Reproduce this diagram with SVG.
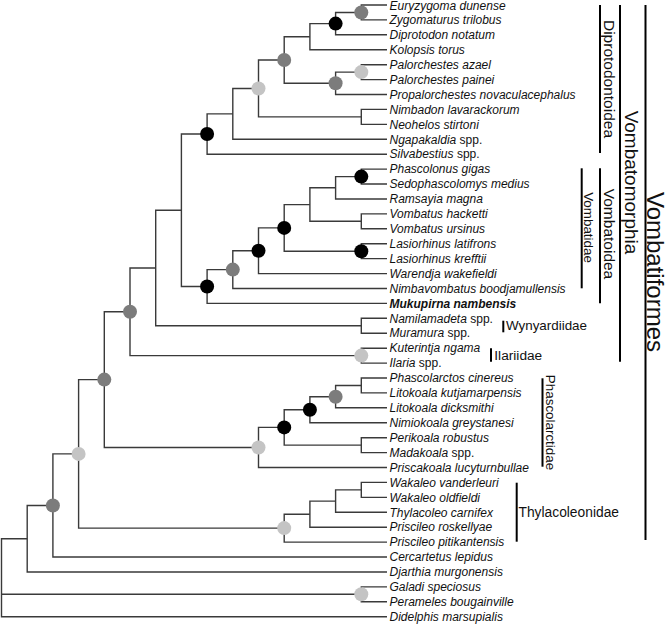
<svg xmlns="http://www.w3.org/2000/svg" width="669" height="624" viewBox="0 0 669 624">
<style>
.e{fill:none;stroke:#3a3a3a;stroke-width:1.4}
.bar{stroke:#000;stroke-width:2}
.t{font-family:"Liberation Sans",Arial,sans-serif;font-size:12px;font-style:italic;fill:#111}
.r{font-style:normal}
.b{font-weight:bold}
.cl{font-family:"Liberation Sans",Arial,sans-serif;fill:#111}
.k{fill:#000}
.g{fill:#7c7c7c}
.l{fill:#c4c4c4}
</style>
<rect width="669" height="624" fill="#fff"/>
<g id="connectors" class="e">
<path d="M387,5 H361.3 V19.9 H387"/>
<path d="M361.3,12.5 H335.6 V34.8 H387"/>
<path d="M335.6,23.6 H309.9 V49.8 H387"/>
<path d="M387,64.7 H361.3 V79.6 H387"/>
<path d="M361.3,72.1 H335.6 V94.5 H387"/>
<path d="M309.9,36.7 H284.2 V83.3 H335.6"/>
<path d="M387,109.4 H361.3 V124.4 H387"/>
<path d="M284.2,60 H258.5 V116.9 H361.3"/>
<path d="M258.5,88.5 H232.8 V139.3 H387"/>
<path d="M232.8,113.9 H207.1 V154.2 H387"/>
<path d="M387,169.1 H361.3 V184 H387"/>
<path d="M361.3,176.6 H335.6 V199 H387"/>
<path d="M387,213.9 H361.3 V228.8 H387"/>
<path d="M335.6,187.8 H309.9 V221.3 H361.3"/>
<path d="M387,243.7 H361.3 V258.6 H387"/>
<path d="M309.9,204.6 H284.2 V251.2 H361.3"/>
<path d="M284.2,227.9 H258.5 V273.6 H387"/>
<path d="M258.5,250.7 H232.8 V288.5 H387"/>
<path d="M232.8,269.6 H207.1 V303.4 H387"/>
<path d="M207.1,134 H181.4 V286.5 H207.1"/>
<path d="M387,318.3 H361.3 V333.2 H387"/>
<path d="M181.4,210.3 H155.7 V325.8 H361.3"/>
<path d="M387,348.2 H361.3 V363.1 H387"/>
<path d="M155.7,268 H130 V355.6 H361.3"/>
<path d="M387,378 H361.3 V392.9 H387"/>
<path d="M361.3,385.5 H335.6 V407.8 H387"/>
<path d="M335.6,396.7 H309.9 V422.8 H387"/>
<path d="M387,437.7 H361.3 V452.6 H387"/>
<path d="M309.9,409.7 H284.2 V445.1 H361.3"/>
<path d="M284.2,427.4 H258.5 V467.5 H387"/>
<path d="M130,311.8 H104.3 V447.5 H258.5"/>
<path d="M387,482.4 H361.3 V497.4 H387"/>
<path d="M361.3,489.9 H335.6 V512.3 H387"/>
<path d="M335.6,501.1 H309.9 V527.2 H387"/>
<path d="M309.9,514.2 H284.2 V542.1 H387"/>
<path d="M104.3,379.6 H78.6 V528.1 H284.2"/>
<path d="M78.6,453.9 H52.9 V557 H387"/>
<path d="M52.9,505.5 H27.2 V572 H387"/>
<path d="M387,586.9 H361.3 V601.8 H387"/>
<path d="M27.2,538.7 H1.5 V616.7 H387"/>
<path d="M1.5,594.3 H361.3"/>
</g>
<g id="support">
<g id="n-eury-zygo"><circle class="g" cx="361.3" cy="12.5" r="7"/></g>
<g id="n-diprotodontinae"><circle class="k" cx="335.6" cy="23.6" r="7"/></g>
<g id="n-palorchestes"><circle class="l" cx="361.3" cy="72.1" r="7"/></g>
<g id="n-palorchestidae"><circle class="g" cx="335.6" cy="83.3" r="7"/></g>
<g id="n-dipro-palor"><circle class="g" cx="284.2" cy="60" r="7"/></g>
<g id="n-diprotodontidae"><circle class="l" cx="258.5" cy="88.5" r="7"/></g>
<g id="n-diprotodontoidea"><circle class="k" cx="207.1" cy="134" r="7"/></g>
<g id="n-phascolonus-sedo"><circle class="k" cx="361.3" cy="176.6" r="7"/></g>
<g id="n-lasiorhinus"><circle class="k" cx="361.3" cy="251.2" r="7"/></g>
<g id="n-crown-wombats"><circle class="k" cx="284.2" cy="227.9" r="7"/></g>
<g id="n-warendja"><circle class="k" cx="258.5" cy="250.7" r="7"/></g>
<g id="n-vombatidae"><circle class="g" cx="232.8" cy="269.6" r="7"/></g>
<g id="n-vombatoidea"><circle class="k" cx="207.1" cy="286.5" r="7"/></g>
<g id="n-ilariidae"><circle class="l" cx="361.3" cy="355.6" r="7"/></g>
<g id="n-vombatomorphia"><circle class="g" cx="130" cy="311.8" r="7"/></g>
<g id="n-phascolarctos-litokoala"><circle class="g" cx="335.6" cy="396.7" r="7"/></g>
<g id="n-nimiokoala"><circle class="k" cx="309.9" cy="409.7" r="7"/></g>
<g id="n-koala-crown"><circle class="k" cx="284.2" cy="427.4" r="7"/></g>
<g id="n-phascolarctidae"><circle class="l" cx="258.5" cy="447.5" r="7"/></g>
<g id="n-vomb-phasc"><circle class="g" cx="104.3" cy="379.6" r="7"/></g>
<g id="n-thylacoleonidae"><circle class="l" cx="284.2" cy="528.1" r="7"/></g>
<g id="n-vombatiformes"><circle class="l" cx="78.6" cy="453.9" r="7"/></g>
<g id="n-diprotodontia"><circle class="g" cx="52.9" cy="505.5" r="7"/></g>
<g id="n-peramelidae"><circle class="l" cx="361.3" cy="594.3" r="7"/></g>
</g>
<g id="taxa" class="t">
<text id="t1" x="389.5" y="9.6">Euryzygoma dunense</text>
<text id="t2" x="389.5" y="24.1">Zygomaturus trilobus</text>
<text id="t3" x="389.5" y="39">Diprotodon notatum</text>
<text id="t4" x="389.5" y="54">Kolopsis torus</text>
<text id="t5" x="389.5" y="68.9">Palorchestes azael</text>
<text id="t6" x="389.5" y="83.8">Palorchestes painei</text>
<text id="t7" x="389.5" y="98.7">Propalorchestes novaculacephalus</text>
<text id="t8" x="389.5" y="113.6">Nimbadon lavarackorum</text>
<text id="t9" x="389.5" y="128.6">Neohelos stirtoni</text>
<text id="t10" x="389.5" y="143.5">Ngapakaldia <tspan class="r">spp.</tspan></text>
<text id="t11" x="389.5" y="158.4">Silvabestius <tspan class="r">spp.</tspan></text>
<text id="t12" x="389.5" y="173.3">Phascolonus gigas</text>
<text id="t13" x="389.5" y="188.2">Sedophascolomys medius</text>
<text id="t14" x="389.5" y="203.2">Ramsayia magna</text>
<text id="t15" x="389.5" y="218.1">Vombatus hacketti</text>
<text id="t16" x="389.5" y="233">Vombatus ursinus</text>
<text id="t17" x="389.5" y="247.9">Lasiorhinus latifrons</text>
<text id="t18" x="389.5" y="262.8">Lasiorhinus krefftii</text>
<text id="t19" x="389.5" y="277.8">Warendja wakefieldi</text>
<text id="t20" x="389.5" y="292.7">Nimbavombatus boodjamullensis</text>
<text id="t21" x="389.5" y="307.6" class="b">Mukupirna nambensis</text>
<text id="t22" x="389.5" y="322.5">Namilamadeta <tspan class="r">spp.</tspan></text>
<text id="t23" x="389.5" y="337.4">Muramura <tspan class="r">spp.</tspan></text>
<text id="t24" x="389.5" y="352.4">Kuterintja ngama</text>
<text id="t25" x="389.5" y="367.3">Ilaria <tspan class="r">spp.</tspan></text>
<text id="t26" x="389.5" y="382.2">Phascolarctos cinereus</text>
<text id="t27" x="389.5" y="397.1">Litokoala kutjamarpensis</text>
<text id="t28" x="389.5" y="412">Litokoala dicksmithi</text>
<text id="t29" x="389.5" y="427">Nimiokoala greystanesi</text>
<text id="t30" x="389.5" y="441.9">Perikoala robustus</text>
<text id="t31" x="389.5" y="456.8">Madakoala <tspan class="r">spp.</tspan></text>
<text id="t32" x="389.5" y="471.7">Priscakoala lucyturnbullae</text>
<text id="t33" x="389.5" y="486.6">Wakaleo vanderleuri</text>
<text id="t34" x="389.5" y="501.6">Wakaleo oldfieldi</text>
<text id="t35" x="389.5" y="516.5">Thylacoleo carnifex</text>
<text id="t36" x="389.5" y="531.4">Priscileo roskellyae</text>
<text id="t37" x="389.5" y="546.3">Priscileo pitikantensis</text>
<text id="t38" x="389.5" y="561.2">Cercartetus lepidus</text>
<text id="t39" x="389.5" y="576.2">Djarthia murgonensis</text>
<text id="t40" x="389.5" y="591.1">Galadi speciosus</text>
<text id="t41" x="389.5" y="606">Perameles bougainville</text>
<text id="t42" x="389.5" y="620.9">Didelphis marsupialis</text>
</g>
<g id="clade-labels" class="cl">
<g id="c-diprotodontoidea"><line class="bar" x1="600" y1="5" x2="600" y2="153"/><text transform="translate(604,79) rotate(90)" text-anchor="middle" font-size="15.5">Diprotodontoidea</text></g>
<g id="c-vombatoidea"><line class="bar" x1="600" y1="168.3" x2="600" y2="303.3"/><text transform="translate(603.5,234) rotate(90)" text-anchor="middle" font-size="15.5">Vombatoidea</text></g>
<g id="c-vombatidae"><line class="bar" x1="581.7" y1="168.3" x2="581.7" y2="288.3"/><text transform="translate(584,227.5) rotate(90)" text-anchor="middle" font-size="13.4">Vombatidae</text></g>
<g id="c-vombatomorphia"><line class="bar" x1="620" y1="5" x2="620" y2="361.7"/><text transform="translate(624.5,182.5) rotate(90)" text-anchor="middle" font-size="19">Vombatomorphia</text></g>
<g id="c-vombatiformes"><line class="bar" x1="645.5" y1="5" x2="645.5" y2="540"/><text transform="translate(647,272) rotate(90)" text-anchor="middle" font-size="24">Vombatiformes</text></g>
<g id="c-wynyardiidae"><line class="bar" x1="503.3" y1="320.7" x2="503.3" y2="332.3"/><text x="506" y="329.5" font-size="13.4">Wynyardiidae</text></g>
<g id="c-ilariidae"><line class="bar" x1="491" y1="348.3" x2="491" y2="361.7"/><text x="494.3" y="360" font-size="13.7">Ilariidae</text></g>
<g id="c-phascolarctidae"><line class="bar" x1="542.5" y1="378.3" x2="542.5" y2="466.7"/><text transform="translate(545.5,422.5) rotate(90)" text-anchor="middle" font-size="13.4">Phascolarctidae</text></g>
<g id="c-thylacoleonidae"><line class="bar" x1="516.7" y1="482.7" x2="516.7" y2="541.7"/><text x="518.5" y="517" font-size="13.8">Thylacoleonidae</text></g>
</g>
</svg>
